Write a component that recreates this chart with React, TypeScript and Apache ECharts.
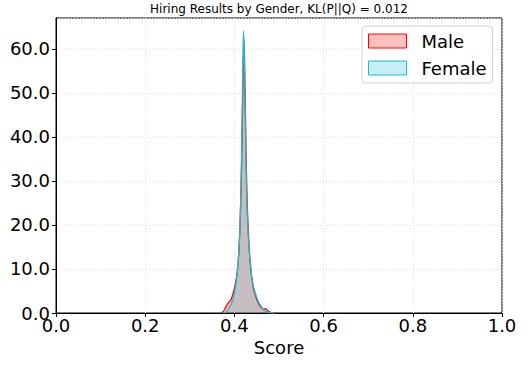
import React, { useEffect, useRef } from "react";
import * as echarts from "echarts";

const titleText = "Hiring Results by Gender, KL(P||Q) = 0.012";
const seriesNames = ["Male", "Female"];

const maleX = [0.372, 0.378, 0.383, 0.388, 0.393, 0.398, 0.403, 0.407, 0.41, 0.413, 0.416, 0.418, 0.42, 0.4215, 0.423, 0.425, 0.427, 0.429, 0.432, 0.435, 0.439, 0.443, 0.447, 0.452, 0.458, 0.465, 0.47, 0.475, 0.482, 0.49];
const maleY = [0, 0.8, 1.8, 2.5, 3.2, 4.8, 7, 10, 14, 21, 33, 45, 57, 62, 56, 44, 32, 24, 17, 12, 8, 5.5, 4, 2.6, 1.5, 0.9, 1.0, 0.5, 0.1, 0];

const femaleX = [0.375, 0.382, 0.39, 0.395, 0.4, 0.404, 0.408, 0.411, 0.414, 0.416, 0.418, 0.4195, 0.4205, 0.4215, 0.423, 0.425, 0.427, 0.429, 0.432, 0.435, 0.439, 0.443, 0.447, 0.452, 0.458, 0.465, 0.472, 0.48, 0.488];
const femaleY = [0, 0.3, 1.5, 2.5, 4.5, 7, 11, 16, 25, 36, 50, 60, 64, 61, 52, 40, 29, 22, 16, 12, 8, 6, 4.5, 3, 1.8, 0.8, 0.3, 0.1, 0];

const FONT = "DejaVu Sans";

export default function App() {
  const ref = useRef<HTMLDivElement>(null);
  useEffect(() => {
    if (!ref.current) return;
    const chart = echarts.init(ref.current, undefined, { renderer: "svg" });
    const male = maleX.map((x, i) => [x, maleY[i]]);
    const female = femaleX.map((x, i) => [x, femaleY[i]]);
    chart.setOption({
      animation: false,
      backgroundColor: "#ffffff",
      textStyle: { fontFamily: FONT },
      grid: {
        left: 56, right: 25, top: 18, bottom: 56,
        show: true, borderColor: "#000", borderWidth: 1, backgroundColor: "transparent",
      },
      graphic: [
        {
          type: "text", x: 279, y: 9,
          style: { text: titleText, fontFamily: FONT, fontSize: 12, fill: "#000", textAlign: "center", textVerticalAlign: "middle" },
        },
      ],
      legend: {
        orient: "vertical", left: 362, top: 26,
        padding: [6, 6, 6, 6],
        itemWidth: 38, itemHeight: 14, itemGap: 9,
        borderColor: "#d0d0d0", borderWidth: 1, borderRadius: 4,
        backgroundColor: "rgba(255,255,255,0.8)",
        textStyle: { fontFamily: FONT, fontSize: 18, color: "#000", lineHeight: 18, padding: [0, 0, 0, 10] },
        data: [
          { name: seriesNames[0], icon: "rect", itemStyle: { color: "rgba(255,0,0,0.25)", borderColor: "#ff0000", borderWidth: 1 } },
          { name: seriesNames[1], icon: "rect", itemStyle: { color: "rgba(23,190,207,0.25)", borderColor: "#17becf", borderWidth: 1 } },
        ],
      },
      xAxis: {
        type: "value", min: 0, max: 1, interval: 0.2,
        name: "Score", nameLocation: "middle", nameGap: 24,
        nameTextStyle: { fontFamily: FONT, fontSize: 18, color: "#000" },
        axisLine: { show: true, lineStyle: { color: "#000", width: 1 } },
        axisTick: { show: true, length: 4, lineStyle: { color: "#000" } },
        axisLabel: { fontFamily: FONT, fontSize: 18, color: "#000", margin: 3, formatter: (v: number) => v.toFixed(1) },
        splitLine: { show: true, lineStyle: { color: "#dddddd", type: [1, 2], width: 1 } },
      },
      yAxis: {
        type: "value", min: 0, max: 67, interval: 10,
        axisLine: { show: true, lineStyle: { color: "#000", width: 1 } },
        axisTick: { show: true, length: 4, lineStyle: { color: "#000" } },
        axisLabel: { fontFamily: FONT, fontSize: 18, color: "#000", margin: 6, formatter: (v: number) => v.toFixed(1), showMaxLabel: false },
        splitLine: { show: true, lineStyle: { color: "#dddddd", type: [1, 2], width: 1 } },
      },
      series: [
        {
          name: seriesNames[0], type: "line", data: male, smooth: 0.3, showSymbol: false,
          lineStyle: { color: "#ff0000", width: 1.3 },
          itemStyle: { color: "#ff0000" },
          areaStyle: { color: "#ff0000", opacity: 0.25 },
        },
        {
          name: seriesNames[1], type: "line", data: female, smooth: 0.3, showSymbol: false,
          lineStyle: { color: "#17becf", width: 1.3 },
          itemStyle: { color: "#17becf" },
          areaStyle: { color: "#17becf", opacity: 0.25 },
        },
      ],
    });
    return () => chart.dispose();
  }, []);
  return <div ref={ref} style={{ width: 527, height: 369, position: "absolute", left: 0, top: 0 }} />;
}
